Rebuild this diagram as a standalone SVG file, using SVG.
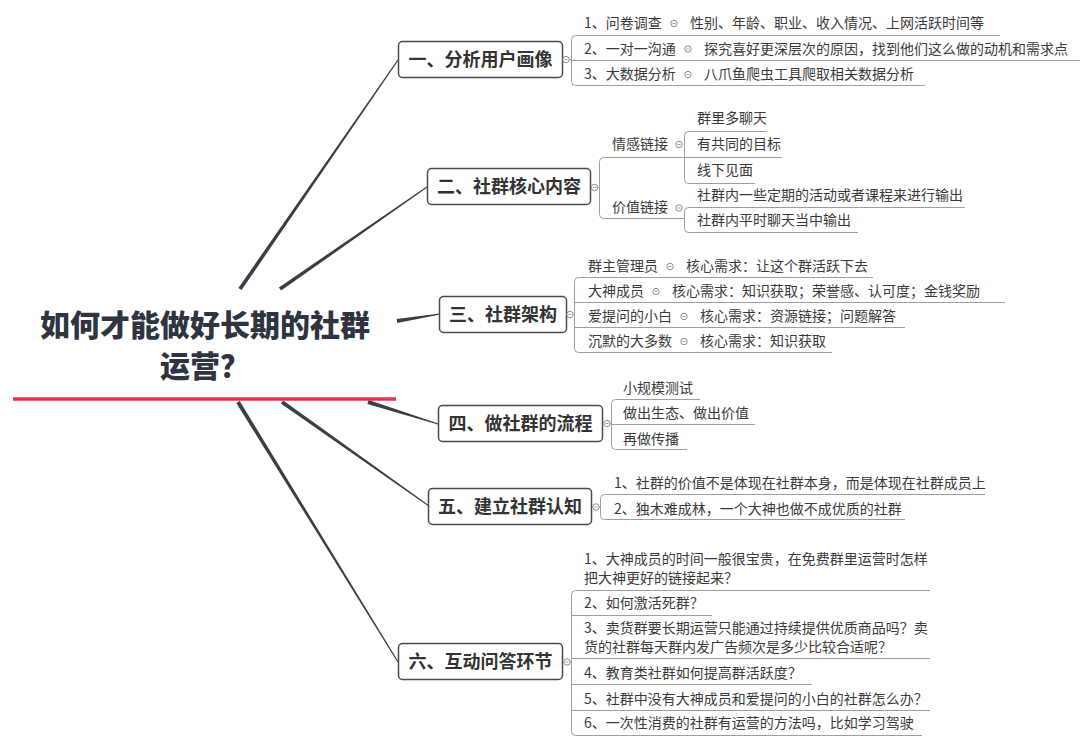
<svg xmlns="http://www.w3.org/2000/svg" xmlns:xlink="http://www.w3.org/1999/xlink" width="1080" height="746" viewBox="0 0 1080 746">
<style>
.bg{fill:#fff}
.box{fill:#fff;stroke:#4a4a4a;stroke-width:1.5}
.nt{font-family:"Noto Sans CJK SC","Microsoft YaHei",sans-serif;font-size:18px;font-weight:700;fill:#333;text-anchor:middle}
.t{font-family:"Noto Sans CJK SC","Microsoft YaHei",sans-serif;font-size:14px;fill:#3a3a3a}
.title{font-family:"Noto Sans CJK SC","Microsoft YaHei",sans-serif;font-size:30px;font-weight:900;fill:#2f3540;text-anchor:middle}
.br{fill:none;stroke:#9e9e9e;stroke-width:1}
.main{fill:#3a3f46}
</style>
<defs>
<g id="c"><circle r="3.2" fill="#fff" stroke="#8c8c8c" stroke-width="1"/><line x1="-1.6" y1="0" x2="1.6" y2="0" stroke="#8c8c8c" stroke-width="0.8"/></g>
</defs>
<rect class="bg" x="0" y="0" width="1080" height="746"/>

<g id="connectors">
<polygon class="main" points="241.6,290.1 398.5,60.3 397.5,59.7 238.4,287.9"/>
<polygon class="main" points="281.1,290.6 427.3,187.5 426.7,186.5 278.9,287.4"/>
<polygon class="main" points="397.3,323.0 440.1,314.6 439.9,313.4 396.7,319.0"/>
<polygon class="main" points="367.4,403.9 437.8,424.6 438.2,423.4 368.6,400.1"/>
<polygon class="main" points="280.8,403.6 428.7,506.5 429.3,505.5 283.2,400.4"/>
<polygon class="main" points="236.3,403.0 397.5,662.3 398.5,661.7 239.7,401.0"/>
<!-- node 1 branches -->
<path class="br" d="M569 59.5 H571.5 M1000 35.5 H575.5 Q571.5 35.5 571.5 39.5 V81.5 Q571.5 85.5 575.5 85.5 H925 M571.5 60.5 H1080"/>
<!-- node 2 branches -->
<path class="br" d="M597.5 187.5 H599.5 M684.5 157.5 H603.5 Q599.5 157.5 599.5 161.5 V214.5 Q599.5 218.5 603.5 218.5 H684.5"/>
<path class="br" d="M767 131.5 H688.5 Q684.5 131.5 684.5 135.5 V179.5 Q684.5 183.5 688.5 183.5 H755 M684.5 157.5 H782"/>
<path class="br" d="M965 207.5 H688.5 Q684.5 207.5 684.5 211.5 V228.5 Q684.5 232.5 688.5 232.5 H858"/>
<!-- node 3 branches -->
<path class="br" d="M573 314.5 H574.5 M873 277.5 H578.5 Q574.5 277.5 574.5 281.5 V348.5 Q574.5 352.5 578.5 352.5 H832 M574.5 302.5 H1005 M574.5 327.5 H905"/>
<!-- node 4 branches -->
<path class="br" d="M610 423.5 H611.5 M700 399.5 H615.5 Q611.5 399.5 611.5 403.5 V445.5 Q611.5 449.5 615.5 449.5 H687 M611.5 424.5 H755"/>
<!-- node 5 branches -->
<path class="br" d="M599 507 H600.5 M985 494.5 H604.5 Q600.5 494.5 600.5 498.5 V515.5 Q600.5 519.5 604.5 519.5 H905"/>
<!-- node 6 branches -->
<path class="br" d="M570 662 H571.5 M930 590.5 H575.5 Q571.5 590.5 571.5 594.5 V731.5 Q571.5 735.5 575.5 735.5 H922 M571.5 615.5 H712 M571.5 658.5 H930 M571.5 684.5 H812 M571.5 710.5 H930"/>
</g>

<g id="root">
<text class="title" x="205" y="336">如何才能做好长期的社群</text>
<text class="title" x="205" y="377">运营？</text>
<line x1="13" y1="399" x2="396" y2="399" stroke="#e3344a" stroke-width="3.5"/>
</g>

<g id="node1">
<rect class="box" x="398.5" y="41.5" width="164" height="36" rx="4"/>
<text class="nt" x="480.5" y="66">一、分析用户画像</text>
<use href="#c" x="566" y="59.5"/>
<text class="t" x="584" y="28">1、问卷调查</text><use href="#c" x="674" y="23.5"/><text class="t" x="690" y="28">性别、年龄、职业、收入情况、上网活跃时间等</text>
<text class="t" x="584" y="54">2、一对一沟通</text><use href="#c" x="688" y="49"/><text class="t" x="704" y="54">探究喜好更深层次的原因，找到他们这么做的动机和需求点</text>
<text class="t" x="584" y="79">3、大数据分析</text><use href="#c" x="688" y="74.5"/><text class="t" x="704" y="79">八爪鱼爬虫工具爬取相关数据分析</text>
</g>

<g id="node2">
<rect class="box" x="427.5" y="168.5" width="163" height="36" rx="4"/>
<text class="nt" x="509" y="193">二、社群核心内容</text>
<use href="#c" x="594.5" y="187.5"/>
<text class="t" x="612" y="149">情感链接</text><use href="#c" x="679" y="144.5"/>
<text class="t" x="697" y="123">群里多聊天</text>
<text class="t" x="697" y="149">有共同的目标</text>
<text class="t" x="697" y="175">线下见面</text>
<text class="t" x="612" y="212">价值链接</text><use href="#c" x="679" y="208"/>
<text class="t" x="697" y="200">社群内一些定期的活动或者课程来进行输出</text>
<text class="t" x="697" y="225">社群内平时聊天当中输出</text>
</g>

<g id="node3">
<rect class="box" x="439.5" y="296.5" width="127" height="36" rx="4"/>
<text class="nt" x="503" y="321">三、社群架构</text>
<use href="#c" x="570" y="314.5"/>
<text class="t" x="588" y="271">群主管理员</text><use href="#c" x="670" y="266.5"/><text class="t" x="686" y="271">核心需求：让这个群活跃下去</text>
<text class="t" x="588" y="296">大神成员</text><use href="#c" x="656" y="291.5"/><text class="t" x="672" y="296">核心需求：知识获取；荣誉感、认可度；金钱奖励</text>
<text class="t" x="588" y="321">爱提问的小白</text><use href="#c" x="684" y="316.5"/><text class="t" x="700" y="321">核心需求：资源链接；问题解答</text>
<text class="t" x="588" y="346">沉默的大多数</text><use href="#c" x="684" y="341.5"/><text class="t" x="700" y="346">核心需求：知识获取</text>
</g>

<g id="node4">
<rect class="box" x="438.5" y="405.5" width="164" height="36" rx="4"/>
<text class="nt" x="520.5" y="430">四、做社群的流程</text>
<use href="#c" x="607" y="423.5"/>
<text class="t" x="623" y="393">小规模测试</text>
<text class="t" x="623" y="418">做出生态、做出价值</text>
<text class="t" x="623" y="444">再做传播</text>
</g>

<g id="node5">
<rect class="box" x="428.5" y="488.5" width="163" height="36" rx="4"/>
<text class="nt" x="510" y="513">五、建立社群认知</text>
<use href="#c" x="596" y="507"/>
<text class="t" x="614" y="488">1、社群的价值不是体现在社群本身，而是体现在社群成员上</text>
<text class="t" x="614" y="514">2、独木难成林，一个大神也做不成优质的社群</text>
</g>

<g id="node6">
<rect class="box" x="398.5" y="643.5" width="164" height="36" rx="4"/>
<text class="nt" x="480.5" y="668">六、互动问答环节</text>
<use href="#c" x="567" y="662"/>
<text class="t" x="584" y="564">1、大神成员的时间一般很宝贵，在免费群里运营时怎样</text>
<text class="t" x="584" y="583">把大神更好的链接起来？</text>
<text class="t" x="584" y="608">2、如何激活死群？</text>
<text class="t" x="584" y="633">3、卖货群要长期运营只能通过持续提供优质商品吗？卖</text>
<text class="t" x="584" y="652">货的社群每天群内发广告频次是多少比较合适呢？</text>
<text class="t" x="584" y="678">4、教育类社群如何提高群活跃度？</text>
<text class="t" x="584" y="704">5、社群中没有大神成员和爱提问的小白的社群怎么办？</text>
<text class="t" x="584" y="728">6、一次性消费的社群有运营的方法吗，比如学习驾驶</text>
</g>
</svg>
